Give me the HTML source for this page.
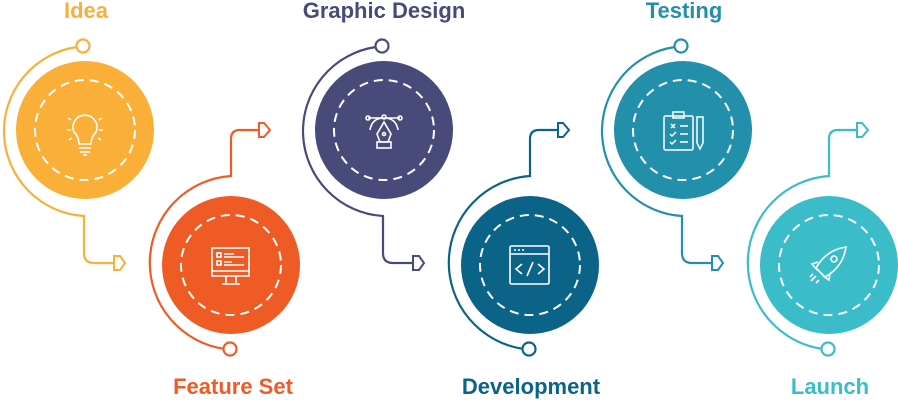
<!DOCTYPE html>
<html><head><meta charset="utf-8"><style>
html,body{margin:0;padding:0;background:#fff;width:898px;height:400px;overflow:hidden}
svg{display:block}
text{font-family:"Liberation Sans",sans-serif;font-weight:bold;font-size:22px;text-anchor:middle}
</style></head><body>
<svg width="898" height="400" viewBox="0 0 898 400" xmlns="http://www.w3.org/2000/svg">
<defs>
<g id="top">
  <path d="M77,47 A85,85 0 0 0 84,216 L84,253 Q84,263 94,263 L114,263" fill="none" stroke-width="2.2"/>
  <path d="M114,256 L120,256 L125,263 L120,270 L114,270 Z" fill="#fff" stroke-width="2"/>
  <circle cx="83" cy="46" r="6.5" fill="#fff" stroke-width="2.2"/>
</g>
<g id="bot">
  <path d="M225,349 A87,87 0 0 1 231,176 L231,139 Q231,130 240,130 L259,130" fill="none" stroke-width="2.2"/>
  <path d="M259,123 L264,123 L270,130 L264,137 L259,137 Z" fill="#fff" stroke-width="2"/>
  <circle cx="230" cy="349" r="6.5" fill="#fff" stroke-width="2.2"/>
</g>
</defs>

<!-- Idea -->
<g stroke="#F9AF38"><use href="#top"/></g>
<circle cx="85" cy="130" r="69" fill="#F9AF38"/>
<circle cx="85" cy="130" r="50" fill="none" stroke="#fff" stroke-width="2" stroke-dasharray="9 6"/>
<g fill="none" stroke="#fff" stroke-width="1.6">
  <path d="M79,144 Q79,137 74,132 A12,12 0 1 1 96,132 Q91,137 91,144 Z"/>
  <path d="M79,148 H91 M80,152 H90 M83,155 H87"/>
  <path d="M68,118 L71,120 M102,118 L99,120 M67,130 L71,130 M103,130 L99,130 M69,140 L72,138 M101,140 L98,138"/>
</g>
<text x="86" y="18" fill="#F9AF38">Idea</text>

<!-- Feature Set -->
<g stroke="#EF5B25"><use href="#bot"/></g>
<circle cx="231" cy="265" r="69" fill="#EF5B25"/>
<circle cx="231" cy="265" r="50" fill="none" stroke="#fff" stroke-width="2" stroke-dasharray="9 6"/>
<g fill="none" stroke="#fff" stroke-width="1.6">
  <rect x="212" y="248" width="37" height="28"/>
  <path d="M212,271 H249 M226,276 V283 M236,276 V283 M222,284 H240"/>
  <rect x="217" y="253" width="4" height="4"/><rect x="217" y="261" width="4" height="4"/>
  <path d="M224,254 H234 M224,257 H244 M224,262 H232 M224,265 H244"/>
</g>
<text x="233" y="394" fill="#EF5B25">Feature Set</text>

<!-- Graphic Design -->
<g transform="translate(299,0)" stroke="#484A7A"><use href="#top"/></g>
<circle cx="384" cy="130" r="69" fill="#484A7A"/>
<circle cx="384" cy="130" r="50" fill="none" stroke="#fff" stroke-width="2" stroke-dasharray="9 6"/>
<g fill="none" stroke="#fff" stroke-width="1.6">
  <path d="M368,118 H400 M370,130 Q372,118 384,118 Q396,118 398,130"/>
  <circle cx="368" cy="118" r="2"/><circle cx="400" cy="118" r="2"/><circle cx="384" cy="117" r="2"/>
  <path d="M384,122 L377,134 L380,142 H388 L391,134 Z"/>
  <circle cx="384" cy="134" r="1.5"/>
  <rect x="377" y="142" width="14" height="6"/>
</g>
<text x="384" y="18" fill="#484A7A">Graphic Design</text>

<!-- Development -->
<g transform="translate(299,0)" stroke="#0B6388"><use href="#bot"/></g>
<circle cx="530" cy="265" r="69" fill="#0B6388"/>
<circle cx="530" cy="265" r="50" fill="none" stroke="#fff" stroke-width="2" stroke-dasharray="9 6"/>
<g fill="none" stroke="#fff" stroke-width="1.6">
  <rect x="510" y="246" width="39" height="38" rx="1.5"/>
  <path d="M510,254 H549 M514,250 H516 M518,250 H520 M522,250 H524"/>
  <path d="M522,264 L516,269 L522,274 M538,264 L544,269 L538,274 M533,262 L527,276"/>
</g>
<text x="531" y="394" fill="#0B6388">Development</text>

<!-- Testing -->
<g transform="translate(598,0)" stroke="#2390AB"><use href="#top"/></g>
<circle cx="683" cy="130" r="69" fill="#2390AB"/>
<circle cx="683" cy="130" r="50" fill="none" stroke="#fff" stroke-width="2" stroke-dasharray="9 6"/>
<g fill="none" stroke="#fff" stroke-width="1.5">
  <rect x="664" y="116" width="29" height="34" rx="1.5"/>
  <rect x="673" y="112" width="11" height="6"/>
  <path d="M671,124 L675,128 M675,124 L671,128 M680,126 H688 M670,134 L672,136 L676,132 M680,134 H688 M670,142 L672,144 L676,140 M680,142 H688"/>
  <path d="M697,117 H703 V143 L700,149 L697,143 Z"/>
</g>
<text x="684" y="18" fill="#2390AB">Testing</text>

<!-- Launch -->
<g transform="translate(598,0)" stroke="#3ABDC9"><use href="#bot"/></g>
<circle cx="829" cy="265" r="69" fill="#3ABDC9"/>
<circle cx="829" cy="265" r="50" fill="none" stroke="#fff" stroke-width="2" stroke-dasharray="9 6"/>
<g fill="none" stroke="#fff" stroke-width="1.6">
  <path d="M822,274 L816,268 Q826,250 846,247 Q843,267 825,277 Z"/>
  <circle cx="834" cy="259" r="3"/>
  <path d="M818,262 L812,264 L817,270 M830,273 L829,280 L823,276"/>
  <path d="M816,276 L811,281 M819,280 L816,283 M813,274 L810,277"/>
</g>
<text x="830" y="394" fill="#3ABDC9">Launch</text>
</svg>
</body></html>
